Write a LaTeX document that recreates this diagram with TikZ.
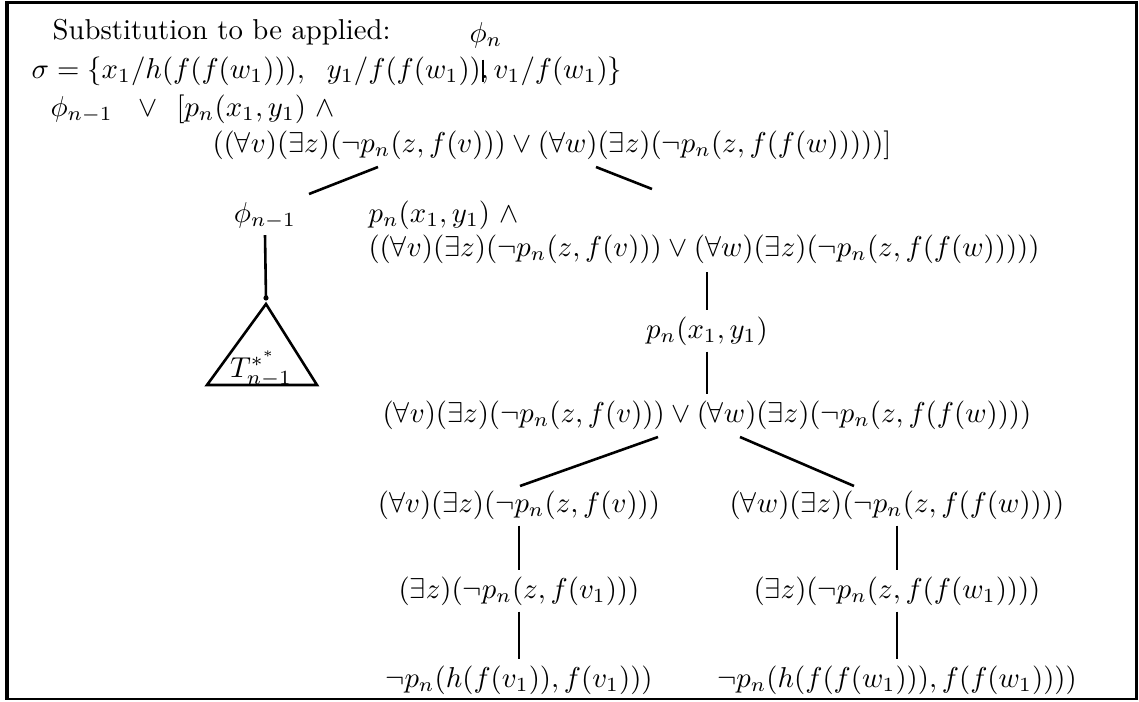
\documentclass[tikz,border=0pt]{standalone}
\usepackage{amssymb}
\begin{document}
\begin{tikzpicture}[x=0.3478pt,y=-0.3478pt,
  lblw/.style={inner sep=0pt, anchor=base west},
  tnode/.style={inner xsep=0pt, inner ysep=2pt, anchor=base},
  branch/.style={line width=0.9pt},
  frame/.style={line width=0.9pt}]
\useasboundingbox (0,0) rectangle (1139,702);
\draw[frame] (6.5,2.5) rectangle (1136.5,699);
\draw[frame] (7.5,2.5) -- (7.5,699);

% header
\node[lblw] (subst) at (52,39) {Substitution to be applied:};
\node[lblw] (sigma) at (31,78) {$\sigma=\{x_1/h(f(f(w_1))),\hspace{6pt}y_1/f(f(w_1)),v_1/f(w_1)\}$};
\node[anchor=base, inner xsep=0pt, inner ysep=4pt] (phin) at (486,42) {$\phi_n$};
\coordinate (phinfoot) at (483,82);
\draw[branch] (phin.south -| phinfoot) -- (phinfoot);

% root formula
\node[lblw] (rootA) at (50,116) {$\phi_{n-1}\hspace{9pt}{\vee}\hspace{6.5pt}[p_n(x_1,y_1)\ \wedge$};
\node[lblw] (rootB) at (212,152) {$((\forall v)(\exists z)(\neg p_n(z,f(v)))\vee(\forall w)(\exists z)(\neg p_n(z,f(f(w)))))]$};

\coordinate (rL1) at (378,167); \coordinate (rL2) at (309,194);
\coordinate (rR1) at (596,167); \coordinate (rR2) at (652,189);
\draw[branch] (rL1) -- (rL2);
\draw[branch] (rR1) -- (rR2);

% left branch
\node[tnode] (phim) at (265,222) {$\phi_{n-1}$};
\node[circle, fill, inner sep=0pt, minimum size=1.8pt] (dot) at (266,298) {};
\draw[branch] (phim.south) -- (dot.center);
\coordinate (triTop) at (266,304);
\coordinate (triR) at (317,385);
\coordinate (triL) at (207,385);
\draw[branch, line join=miter] (triTop) -- (triR) -- (triL) -- cycle;
\node[inner sep=0pt, anchor=base] (Tlab) at (261,377) {$T^{*^*}_{n-1}$};

% right branch
\node[lblw] (n2a) at (368,222) {$p_n(x_1,y_1)\ \wedge$};
\node[anchor=base west, inner xsep=0pt, inner ysep=3pt] (n2b) at (368,256) {$((\forall v)(\exists z)(\neg p_n(z,f(v)))\vee(\forall w)(\exists z)(\neg p_n(z,f(f(w)))))$};
\node[tnode] (pnxy) at (707,338) {$p_n(x_1,y_1)$};
\draw[branch] (n2b.south -| pnxy.north) -- (pnxy.north);
\node[tnode] (l13) at (707,422) {$(\forall v)(\exists z)(\neg p_n(z,f(v)))\vee(\forall w)(\exists z)(\neg p_n(z,f(f(w))))$};
\draw[branch] (pnxy.south) -- (l13.north);

\coordinate (sL1) at (658,437); \coordinate (sL2) at (520,486);
\coordinate (sR1) at (740,437); \coordinate (sR2) at (854,486);
\draw[branch] (sL1) -- (sL2);
\draw[branch] (sR1) -- (sR2);

\node[tnode] (cL) at (519,512) {$(\forall v)(\exists z)(\neg p_n(z,f(v)))$};
\node[tnode] (cR) at (897,512) {$(\forall w)(\exists z)(\neg p_n(z,f(f(w))))$};
\node[tnode] (dL) at (519,598) {$(\exists z)(\neg p_n(z,f(v_1)))$};
\node[tnode] (dR) at (897,598) {$(\exists z)(\neg p_n(z,f(f(w_1))))$};
\node[tnode] (eL) at (519,687) {$\neg p_n(h(f(v_1)),f(v_1)))$};
\node[tnode] (eR) at (897,687) {$\neg p_n(h(f(f(w_1))),f(f(w_1))))$};
\draw[branch] (cL.south) -- (dL.north);
\draw[branch] (cR.south) -- (dR.north);
\draw[branch] (dL.south) -- (eL.north);
\draw[branch] (dR.south) -- (eR.north);
\end{tikzpicture}
\end{document}
